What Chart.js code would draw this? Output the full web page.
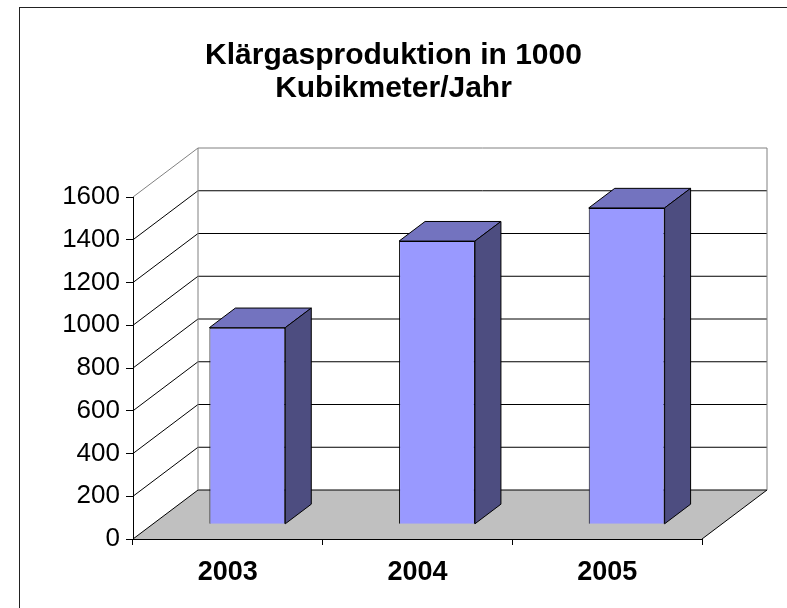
<!DOCTYPE html>
<html>
<head>
<meta charset="utf-8">
<script src="https://cdn.jsdelivr.net/npm/chart.js@4/dist/chart.umd.min.js"></script>
<style>
  html, body { margin: 0; background: #fff; }
  #wrap { width: 787px; height: 608px; position: relative; }
</style>
</head>
<body>
<div id="wrap"><canvas id="chart"></canvas></div>
<script>
// Daten
const years = ['2003', '2004', '2005'];
const gasVolume = [920, 1325, 1480];
const yTicks = [0, 200, 400, 600, 800, 1000, 1200, 1400, 1600];
const titleLines = ['Klärgasproduktion in 1000', 'Kubikmeter/Jahr'];

// 3D-Tiefe (schräge Projektion)
const DX = 65, DY = -49;
const BAR_FRONT = 0.3;   // Balken beginnen bei 30% der Tiefe
const BAR_DEPTH = 0.4;   // und sind 40% tief

Chart.defaults.font.family = '"Liberation Sans", Arial, sans-serif';
Chart.defaults.color = '#000';

const line = (ctx, x1, y1, x2, y2, color) => {
  ctx.strokeStyle = color;
  ctx.beginPath();
  ctx.moveTo(x1, y1);
  ctx.lineTo(x2, y2);
  ctx.stroke();
};

const box3d = {
  id: 'box3d',
  beforeDraw(chart) {
    const { ctx, chartArea: a, scales: { y } } = chart;
    ctx.save();
    ctx.lineWidth = 1;

    // Rahmen
    ctx.strokeStyle = '#222';
    ctx.strokeRect(19.5, 7.5, 900, 900);

    const top = y.getPixelForValue(yTicks[yTicks.length - 1]);
    const bottom = y.getPixelForValue(0);

    // Boden
    ctx.fillStyle = '#c0c0c0';
    ctx.beginPath();
    ctx.moveTo(a.left, bottom);
    ctx.lineTo(a.right, bottom);
    ctx.lineTo(a.right + DX, bottom + DY);
    ctx.lineTo(a.left + DX, bottom + DY);
    ctx.closePath();
    ctx.fill();

    // Gitterlinien an Rück- und Seitenwand
    yTicks.forEach((v, i) => {
      const py = y.getPixelForValue(v);
      const last = i === yTicks.length - 1;
      const c = last ? '#808080' : '#000';
      line(ctx, a.left, py, a.left + DX, py + DY, c);
      line(ctx, a.left + DX, py + DY, a.right + DX, py + DY, c);
    });

    // Wandkanten
    line(ctx, a.left + DX, top + DY, a.left + DX, bottom + DY, '#808080');
    line(ctx, a.right + DX, top + DY, a.right + DX, bottom + DY, '#808080');

    // Bodenkante rechts
    line(ctx, a.right, bottom, a.right + DX, bottom + DY, '#000');
    ctx.restore();
  },
  beforeDatasetsDraw(chart) {
    chart.ctx.save();
    chart.ctx.translate(DX * BAR_FRONT, DY * BAR_FRONT);
  },
  afterDatasetsDraw(chart) {
    const { ctx } = chart;
    ctx.restore();
    const meta = chart.getDatasetMeta(0);
    const bx = DX * BAR_DEPTH, by = DY * BAR_DEPTH;
    ctx.save();
    ctx.lineWidth = 1;
    ctx.strokeStyle = '#000';
    ctx.lineJoin = 'round';
    meta.data.forEach(el => {
      const { x, y, base, width } = el.getProps(['x', 'y', 'base', 'width'], true);
      const ox = DX * BAR_FRONT, oy = DY * BAR_FRONT;
      const xl = x - width / 2 + ox, xr = x + width / 2 + ox;
      const yt = y + oy, yb = base + oy;

      // Oberseite
      ctx.fillStyle = '#7373bf';
      ctx.beginPath();
      ctx.moveTo(xl, yt);
      ctx.lineTo(xr, yt);
      ctx.lineTo(xr + bx, yt + by);
      ctx.lineTo(xl + bx, yt + by);
      ctx.closePath();
      ctx.fill();
      ctx.stroke();

      // Seite
      ctx.fillStyle = '#4d4d80';
      ctx.beginPath();
      ctx.moveTo(xr, yt);
      ctx.lineTo(xr + bx, yt + by);
      ctx.lineTo(xr + bx, yb + by);
      ctx.lineTo(xr, yb);
      ctx.closePath();
      ctx.fill();
      ctx.stroke();
    });
    ctx.restore();
  }
};

new Chart(document.getElementById('chart'), {
  type: 'bar',
  data: {
    labels: years,
    datasets: [{
      data: gasVolume,
      backgroundColor: '#9999ff',
      borderColor: '#000',
      borderWidth: 1,
      barPercentage: 0.4,
      categoryPercentage: 1,
      clip: false
    }]
  },
  options: {
    responsive: true,
    maintainAspectRatio: false,
    animation: false,
    layout: { padding: 0 },
    plugins: {
      legend: { display: false },
      tooltip: { enabled: false },
      title: {
        display: true,
        text: titleLines,
        color: '#000',
        font: { size: 30, weight: 'bold', lineHeight: 1.1 },
        padding: { top: 39, bottom: 92 }
      }
    },
    scales: {
      x: {
        grid: { offset: true, drawOnChartArea: false, tickLength: 6, color: '#000' },
        border: { color: '#000' },
        ticks: { font: { size: 27, weight: 'bold' }, color: '#000', padding: 11, maxRotation: 0 },
        afterFit(s) { s.height = 69; }
      },
      y: {
        min: 0,
        max: 1600,
        afterBuildTicks(s) { s.ticks = yTicks.map(v => ({ value: v })); },
        grid: { drawOnChartArea: false, tickLength: 7, color: '#000' },
        border: { color: '#000' },
        ticks: { font: { size: 26 }, color: '#000', padding: 6, callback: v => String(v) },
        afterFit(s) { s.width = 133; }
      },
      // leerer Rand rechts, damit der Titel über der ganzen Breite zentriert bleibt
      yRight: {
        position: 'right',
        grid: { display: false },
        border: { display: false },
        ticks: { display: false },
        afterFit(s) { s.width = 85; }
      }
    }
  },
  plugins: [box3d]
});
</script>
</body>
</html>
